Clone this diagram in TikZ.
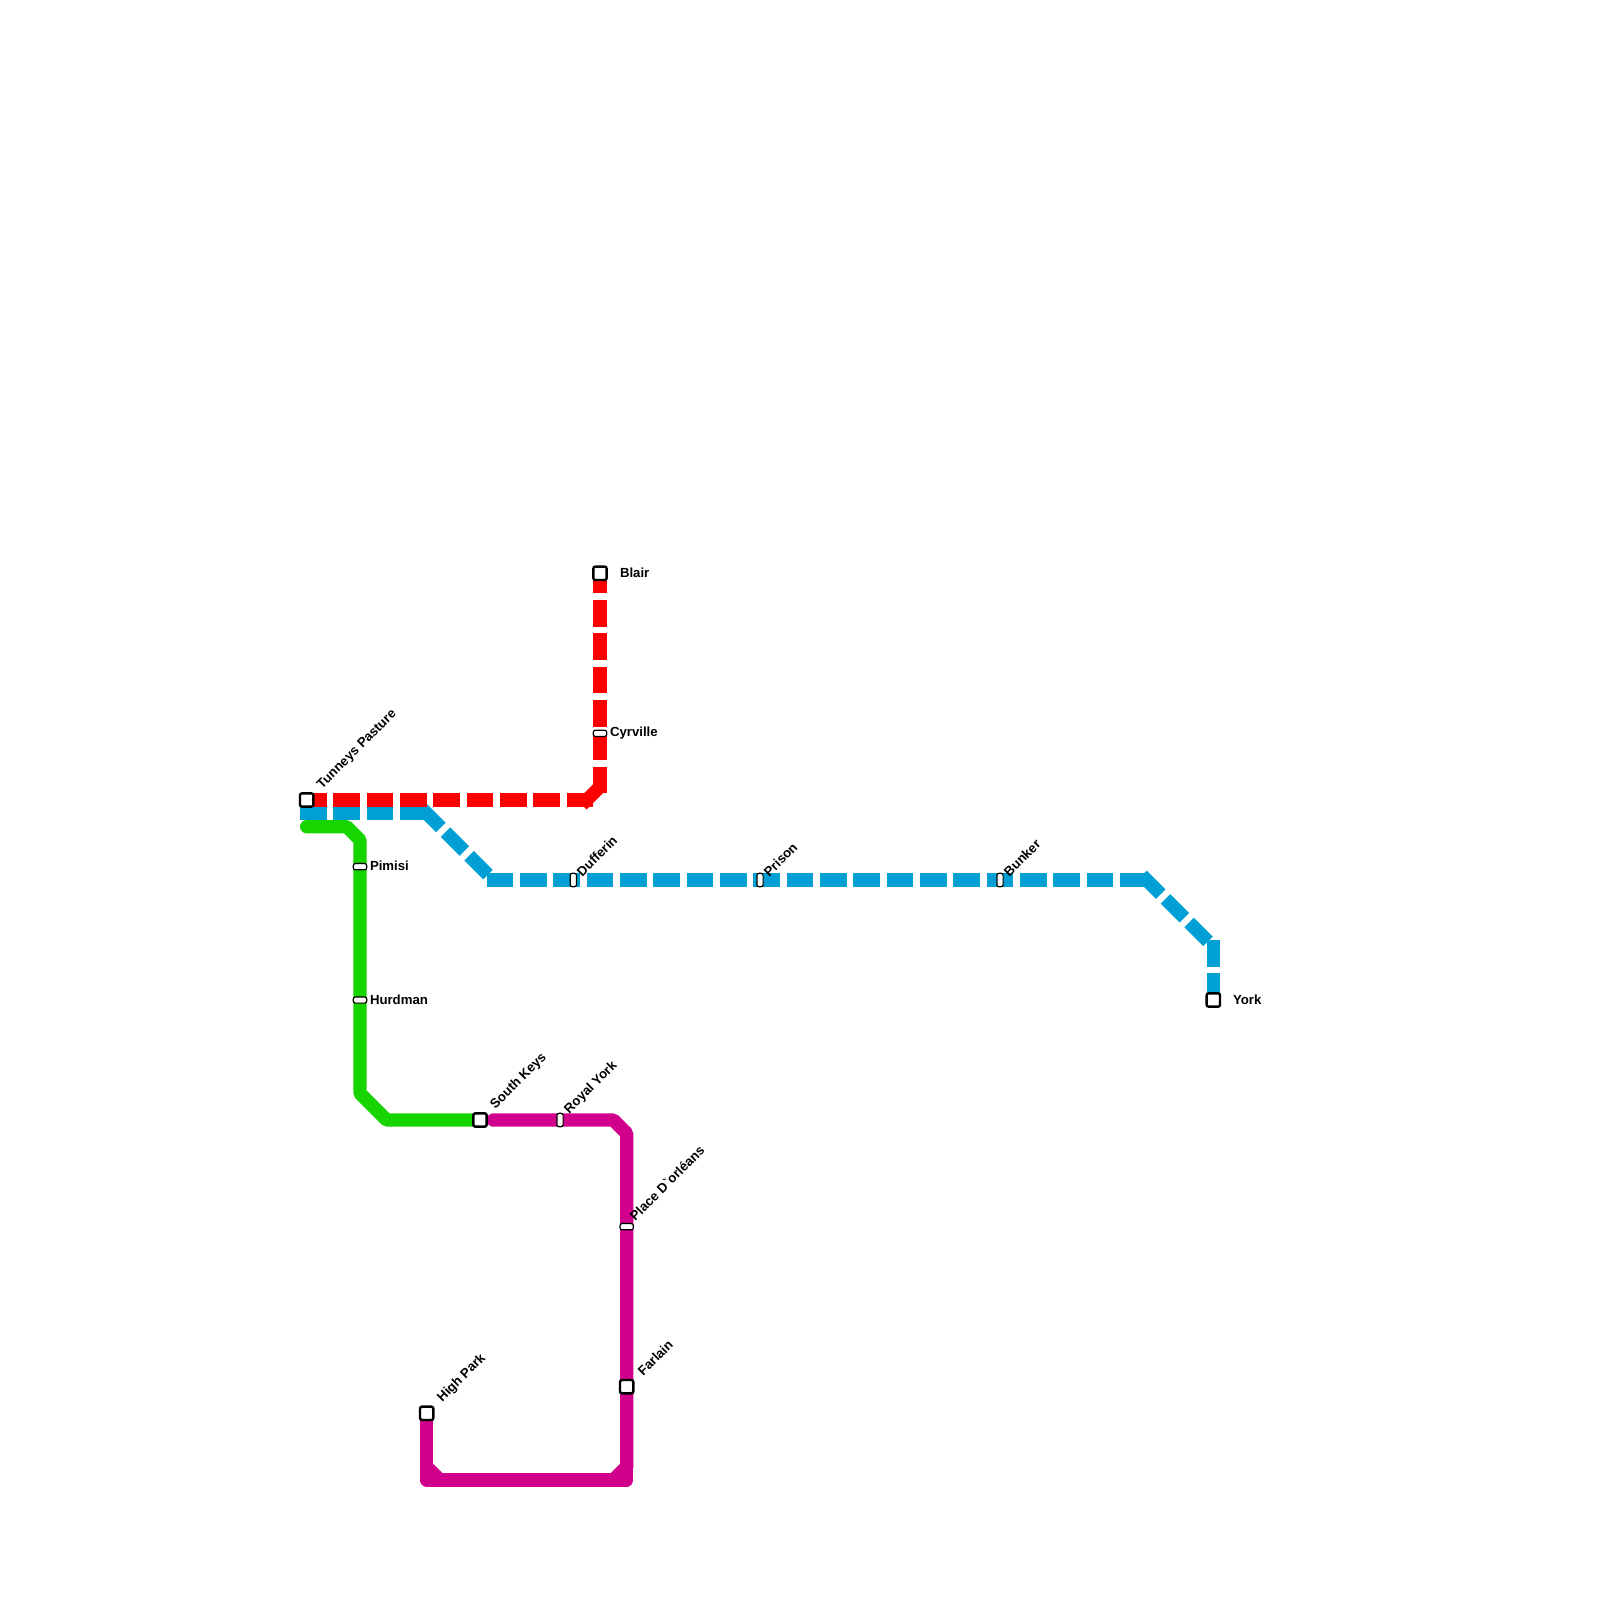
\documentclass[tikz,border=0pt]{standalone}
\usepackage{fontspec}
\newfontfamily\lab{Liberation Sans}[BoldFont={Liberation Sans Bold}]
\definecolor{redl}{HTML}{FF0000}
\definecolor{bluel}{HTML}{009FD4}
\definecolor{greenl}{HTML}{18D400}
\definecolor{magl}{HTML}{D0008C}
\tikzset{
 x=0.5pt,y=-0.5pt,
 dashline/.style={line width=6.667pt,line cap=rect,dash pattern=on 6.667pt off 10pt},
 solidline/.style={line width=6.667pt,line cap=round,line join=bevel},
 term/.style={draw=black,fill=white,line width=1.2pt,rounded corners=1pt,minimum width=6.667pt,minimum height=6.667pt,inner sep=0pt,outer sep=0pt},
 stoph/.style={draw=black,fill=white,line width=0.6pt,rounded corners=1pt,minimum width=6.667pt,minimum height=3.1pt,inner sep=0pt,outer sep=0pt},
 stopv/.style={draw=black,fill=white,line width=0.6pt,rounded corners=1pt,minimum width=3.1pt,minimum height=6.667pt,inner sep=0pt,outer sep=0pt},
 lbl/.style={font=\lab\bfseries\fontsize{6.6}{7.5}\selectfont,text=black,inner sep=0pt,outer sep=0pt,anchor=west},
 rlbl/.style={lbl,rotate=45},
}
\begin{document}
\begin{tikzpicture}
\useasboundingbox (0,0) rectangle (1600,1600);
% line vertices
\coordinate (rA) at (306.67,800);
\coordinate (rB) at (586.67,800);
\coordinate (rC) at (600,786.67);
\coordinate (rD) at (600,573.33);
\coordinate (bA) at (306.67,813.33);
\coordinate (bB) at (426.67,813.33);
\coordinate (bC) at (493.33,880);
\coordinate (bD) at (1146.67,880);
\coordinate (bE) at (1213.33,946.67);
\coordinate (bF) at (1213.33,1000);
\coordinate (gA) at (306.67,826.67);
\coordinate (gB) at (346.67,826.67);
\coordinate (gC) at (360,840);
\coordinate (gD) at (360,1093.33);
\coordinate (gE) at (386.67,1120);
\coordinate (gF) at (480,1120);
\coordinate (mA) at (493.33,1120);
\coordinate (mB) at (613.33,1120);
\coordinate (mC) at (626.67,1133.33);
\coordinate (mD) at (626.67,1480);
\coordinate (mE) at (426.67,1480);
\coordinate (mF) at (426.67,1413.33);
\coordinate (mG) at (613.33,1480);
\coordinate (mH) at (626.67,1466.67);
\coordinate (mI) at (440,1480);
\coordinate (mJ) at (426.67,1466.67);
% lines
\draw[dashline,bluel] (bA) -- (bB);
\draw[dashline,bluel] (bB) -- (bC);
\draw[dashline,bluel] (bC) -- (bD);
\draw[dashline,bluel] (bD) -- (bE);
\draw[dashline,bluel] (bE) -- (bF);
\draw[dashline,redl] (rA) -- (rB);
\draw[dashline,redl] (rB) -- (rC);
\draw[dashline,redl] (rD) -- (rC);
\draw[solidline,greenl] (gA) -- (gB) -- (gC) -- (gD) -- (gE) -- (gF);
\draw[solidline,magl] (mA) -- (mB) -- (mC) -- (mH);
\draw[solidline,magl,line join=round] (mH) -- (mD) -- (mE) -- (mF);
\draw[solidline,magl] (mG) -- (mH);
\draw[solidline,magl] (mI) -- (mJ);
% stations
\node[term] (tunneys) at (306.67,800) {};
\node[term] (blair) at (600,573.33) {};
\node[term] (york) at (1213.33,1000) {};
\node[term] (southkeys) at (480,1120) {};
\node[term] (farlain) at (626.67,1386.67) {};
\node[term] (highpark) at (426.67,1413.33) {};
\node[stoph] (cyrville) at (600,733.33) {};
\node[stoph] (pimisi) at (360,866.67) {};
\node[stoph] (hurdman) at (360,1000) {};
\node[stoph] (place) at (626.67,1226.67) {};
\node[stopv] (dufferin) at (573.33,880) {};
\node[stopv] (prison) at (760,880) {};
\node[stopv] (bunker) at (1000,880) {};
\node[stopv] (royal) at (560,1120) {};
% labels
\node[rlbl] (ltunneys) at (320,787) {Tunneys Pasture};
\node[lbl] (lblair) at (620,573) {Blair};
\node[lbl] (lyork) at (1233,1000) {York};
\node[rlbl] (lsouth) at (493,1107) {South Keys};
\node[rlbl] (lfarlain) at (640,1373) {Farlain};
\node[rlbl] (lhigh) at (440,1400) {High Park};
\node[lbl] (lcyr) at (610,733) {Cyrville};
\node[lbl] (lpim) at (370,866) {Pimisi};
\node[lbl] (lhur) at (370,1000) {Hurdman};
\node[rlbl] (lplace) at (632,1218) {Place D`orléans};
\node[rlbl] (lduf) at (579,874) {Dufferin};
\node[rlbl] (lpri) at (766,874) {Prison};
\node[rlbl] (lbun) at (1006,874) {Bunker};
\node[rlbl] (lroy) at (567,1112) {Royal York};
\end{tikzpicture}
\end{document}
